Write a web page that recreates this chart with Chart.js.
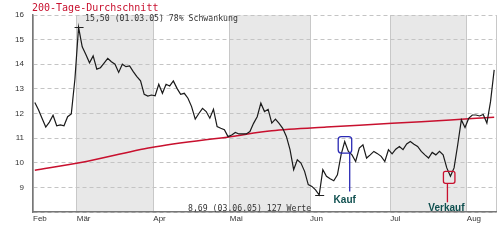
<!DOCTYPE html>
<html>
<head>
<meta charset="utf-8">
<script src="https://cdn.jsdelivr.net/npm/chart.js@4/dist/chart.umd.min.js"></script>
<style>
  html, body { margin: 0; padding: 0; background: #fff; }
  #wrap { width: 500px; height: 247px; }
</style>
</head>
<body>
<div id="wrap"><canvas id="myChart" width="500" height="247"></canvas></div>
<script>
const titel = '200-Tage-Durchschnitt';

// Schlusskurse, ein Wert je Handelstag (127 Werte)
const kurs = [
  12.45, 12.15, 11.8, 11.45, 11.65, 11.93, 11.5, 11.54, 11.5, 11.87,
  11.98, 13.4, 15.5, 14.71, 14.4, 14.06, 14.34, 13.8, 13.86, 14.05,
  14.24, 14.1, 14.0, 13.67, 14.0, 13.9, 13.93, 13.7, 13.5, 13.33,
  12.78, 12.71, 12.75, 12.72, 13.19, 12.82, 13.19, 13.12, 13.32, 13.02,
  12.78, 12.82, 12.62, 12.28, 11.77, 12.0, 12.21, 12.08, 11.81, 12.17,
  11.47, 11.4, 11.34, 11.06, 11.13, 11.23, 11.17, 11.17, 11.17, 11.27,
  11.6, 11.87, 12.42, 12.08, 12.17, 11.61, 11.77, 11.6, 11.4, 11.07,
  10.53, 9.72, 10.12, 9.99, 9.65, 9.11, 9.04, 8.9, 8.69, 9.72,
  9.45, 9.35, 9.27, 9.51, 10.32, 10.86, 10.46, 10.32, 10.05, 10.6,
  10.73, 10.19, 10.32, 10.46, 10.37, 10.26, 10.05, 10.53, 10.36, 10.55,
  10.66, 10.53, 10.76, 10.86, 10.75, 10.66, 10.46, 10.32, 10.19, 10.42,
  10.32, 10.46, 10.32, 9.79, 9.45, 9.79, 10.73, 11.74, 11.43, 11.8,
  11.94, 11.94, 11.9, 11.96, 11.61, 12.48, 13.77
];

const gdTag = [0, 13, 32, 54, 65, 80, 98, 114, 126];
const gdWert = [9.7, 10.02, 10.62, 11.07, 11.3, 11.45, 11.6, 11.74, 11.85];

const monate = ['Feb', 'Mär', 'Apr', 'Mai', 'Jun', 'Jul', 'Aug'];
const monatsGrenze = [-0.5, 11.5, 32.5, 53.5, 75.5, 97.5, 118.5];
const grauVon = [11.5, 53.5, 97.5];
const grauBis = [32.5, 75.5, 118.5];
const yWerte = [8, 9, 10, 11, 12, 13, 14, 15, 16];

const maxText = '15,50 (01.03.05) 78% Schwankung';
const minText = '8,69 (03.06.05) 127 Werte';
const kaufTag = 85;
const verkaufTag = 114;

const ctx = document.getElementById('myChart').getContext('2d');

const baender = {
  id: 'baender',
  beforeDraw(chart) {
    const { ctx, chartArea: a, scales: { x } } = chart;
    ctx.save();
    ctx.fillStyle = '#e8e8e8';
    grauVon.forEach((v, i) => {
      const l = x.getPixelForValue(v);
      const r = x.getPixelForValue(grauBis[i]);
      ctx.fillRect(l, a.top, r - l, a.bottom - a.top);
    });
    ctx.restore();
  }
};

const beschriftung = {
  id: 'beschriftung',
  afterDatasetsDraw(chart) {
    const { ctx, chartArea: a, scales: { x, y } } = chart;
    ctx.save();

    ctx.font = '10px "DejaVu Sans Mono"';
    ctx.fillStyle = '#c8102e';
    ctx.textBaseline = 'alphabetic';
    ctx.textAlign = 'left';
    ctx.fillText(titel, a.left - 1, 11);

    // Hoch und Tief
    const iMax = kurs.indexOf(Math.max(...kurs));
    const iMin = kurs.indexOf(Math.min(...kurs));
    ctx.strokeStyle = '#222';
    ctx.lineWidth = 1;
    let px = x.getPixelForValue(iMax), py = y.getPixelForValue(kurs[iMax]);
    ctx.beginPath();
    ctx.moveTo(px - 4, Math.round(py) + 0.5);
    ctx.lineTo(px + 5, Math.round(py) + 0.5);
    ctx.stroke();
    ctx.font = '8.2px "DejaVu Sans Mono"';
    ctx.fillStyle = '#333';
    ctx.fillText(maxText, px + 6.5, py - 6);

    px = x.getPixelForValue(iMin); py = y.getPixelForValue(kurs[iMin]);
    ctx.beginPath();
    ctx.moveTo(px - 4, Math.round(py) + 0.5);
    ctx.lineTo(px + 5, Math.round(py) + 0.5);
    ctx.stroke();
    ctx.textAlign = 'right';
    ctx.fillText(minText, px - 8, py + 16);

    // Kauf
    px = x.getPixelForValue(kaufTag); py = y.getPixelForValue(kurs[kaufTag]);
    ctx.strokeStyle = '#2a2ab4';
    ctx.lineWidth = 1.3;
    ctx.beginPath();
    ctx.roundRect(px - 6.5, py - 5, 13.5, 16.5, 3);
    ctx.stroke();
    ctx.beginPath();
    ctx.moveTo(px + 5, py + 11.5);
    ctx.lineTo(px + 5, py + 50);
    ctx.stroke();
    ctx.font = 'bold 10px "Liberation Sans"';
    ctx.fillStyle = '#0f4f4f';
    ctx.textAlign = 'center';
    ctx.fillText('Kauf', px, py + 61);

    // Verkauf
    px = x.getPixelForValue(verkaufTag); py = y.getPixelForValue(kurs[verkaufTag]);
    ctx.strokeStyle = '#c8102e';
    ctx.beginPath();
    ctx.roundRect(px - 7, py - 5, 11.5, 12, 2);
    ctx.stroke();
    ctx.beginPath();
    ctx.moveTo(px - 3, py + 7);
    ctx.lineTo(px - 3, py + 26);
    ctx.stroke();
    ctx.fillText('Verkauf', px - 4, py + 35);

    ctx.restore();
  }
};

const myChart = new Chart(ctx, {
  type: 'line',
  data: {
    datasets: [
      {
        label: 'Kurs',
        data: kurs.map((v, i) => ({ x: i, y: v })),
        borderColor: '#1a1a1a',
        borderWidth: 1.2,
        pointRadius: 0,
        tension: 0
      },
      {
        label: '200 Tage',
        data: gdTag.map((t, i) => ({ x: t, y: gdWert[i] })),
        borderColor: '#c8102e',
        borderWidth: 1.5,
        pointRadius: 0,
        tension: 0.3
      }
    ]
  },
  options: {
    responsive: false,
    animation: false,
    devicePixelRatio: 1,
    layout: { padding: { top: 15, right: 4, left: 0, bottom: 0 } },
    plugins: {
      legend: { display: false },
      tooltip: { enabled: false },
      title: { display: false }
    },
    scales: {
      x: {
        type: 'linear',
        min: -0.5,
        max: 126.5,
        afterBuildTicks: (scale) => {
          scale.ticks = monatsGrenze.concat([126.5]).map(v => ({ value: v }));
        },
        afterFit: (scale) => { scale.height = 35; },
        ticks: {
          align: 'start',
          padding: 2,
          autoSkip: false,
          maxRotation: 0,
          color: '#333',
          font: { size: 8, family: 'Liberation Sans' },
          callback: (value, index) => monate[index] || ''
        },
        grid: { color: '#c8c8c8', drawTicks: false },
        border: { color: '#777', width: 1.5 }
      },
      y: {
        min: 8,
        max: 16,
        afterBuildTicks: (scale) => {
          scale.ticks = yWerte.map(v => ({ value: v }));
        },
        afterFit: (scale) => { scale.width = 33; },
        ticks: {
          padding: 9,
          color: '#333',
          font: { size: 8, family: 'Liberation Sans' },
          callback: (value) => value === 8 ? '' : String(value)
        },
        grid: { color: '#c4c4c4', drawTicks: false },
        border: { color: '#777', width: 1.5, dash: [4, 3] }
      }
    }
  },
  plugins: [baender, beschriftung]
});
</script>
</body>
</html>
